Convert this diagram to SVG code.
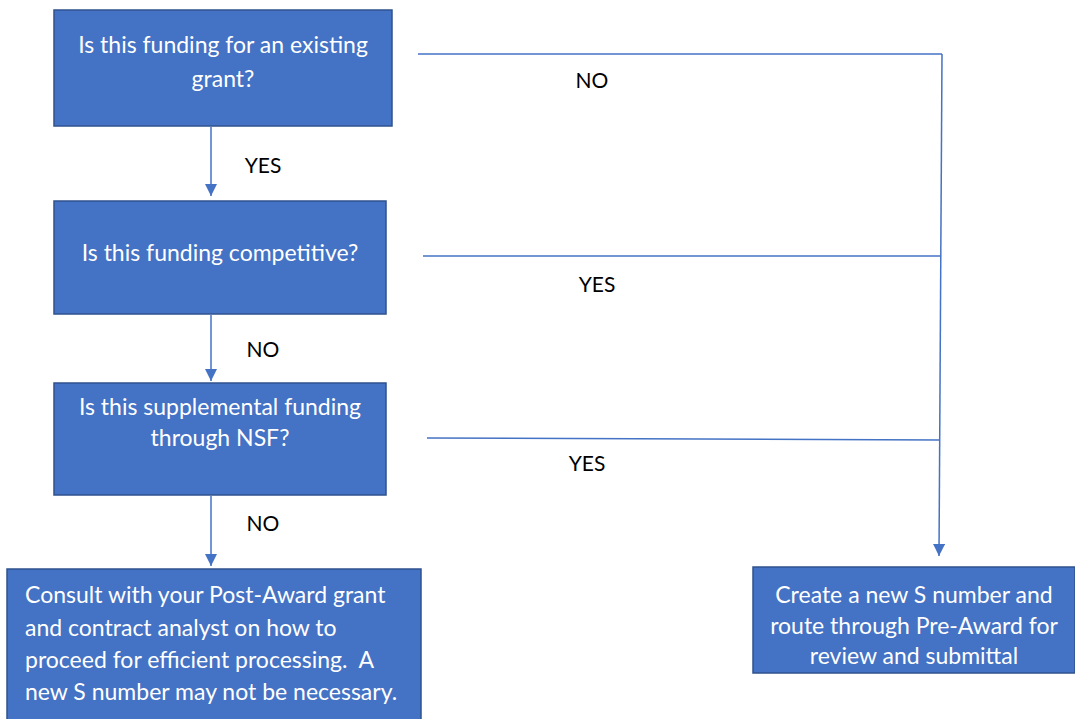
<svg xmlns="http://www.w3.org/2000/svg" width="1075" height="719" viewBox="0 0 1075 719">
<defs>
<style>
.box{fill:#4472C4;stroke:#2F528F;stroke-width:1.5}
.bt{font-family:Lato,"Open Sans","Liberation Sans",sans-serif;font-size:23px;fill:#ffffff;white-space:pre}
.c{text-anchor:middle}
.lbl{font-family:Lato,"Open Sans","Liberation Sans",sans-serif;font-size:21px;fill:#000000;text-anchor:middle}
.ln{stroke:#4472C4;stroke-width:1.5;fill:none}
</style>
<marker id="ah" viewBox="0 0 12 12" refX="12" refY="6" markerWidth="12" markerHeight="12" markerUnits="userSpaceOnUse" orient="auto">
<path d="M0,0 L12,6 L0,12 Z" fill="#4472C4"/>
</marker>
</defs>
<rect width="1075" height="719" fill="#ffffff"/>
<g id="connectors">
<line class="ln" x1="211" y1="127" x2="211" y2="196" marker-end="url(#ah)"/>
<line class="ln" x1="211" y1="315" x2="211" y2="381" marker-end="url(#ah)"/>
<line class="ln" x1="211" y1="496" x2="211" y2="566" marker-end="url(#ah)"/>
<line class="ln" x1="418" y1="54" x2="942" y2="54"/>
<line class="ln" x1="423" y1="256" x2="941" y2="256"/>
<line class="ln" x1="427" y1="438" x2="940" y2="440"/>
<line class="ln" x1="942" y1="54" x2="939" y2="556" marker-end="url(#ah)"/>
<text class="lbl" x="263" y="173">YES</text>
<text class="lbl" x="263" y="357">NO</text>
<text class="lbl" x="263" y="531">NO</text>
<text class="lbl" x="592" y="88">NO</text>
<text class="lbl" x="597" y="292">YES</text>
<text class="lbl" x="587" y="471">YES</text>
</g>
<g id="q1">
<rect class="box" x="54" y="10" width="338" height="116"/>
<text class="bt c" x="223" y="53">Is this funding for an existing</text>
<text class="bt c" x="223" y="87">grant?</text>
</g>
<g id="q2">
<rect class="box" x="54" y="201" width="332" height="113"/>
<text class="bt c" x="220" y="261">Is this funding competitive?</text>
</g>
<g id="q3">
<rect class="box" x="54" y="383" width="332" height="112"/>
<text class="bt c" x="220" y="415">Is this supplemental funding</text>
<text class="bt c" x="220" y="446">through NSF?</text>
</g>
<g id="consult">
<rect class="box" x="7" y="569" width="414" height="160"/>
<text class="bt" x="25" y="603">Consult with your Post-Award grant</text>
<text class="bt" x="25" y="636">and contract analyst on how to</text>
<text class="bt" x="25" y="668" xml:space="preserve">proceed for efficient processing.  A</text>
<text class="bt" x="25" y="700">new S number may not be necessary.</text>
</g>
<g id="create">
<rect class="box" x="753" y="567" width="322" height="106"/>
<text class="bt c" x="914" y="603">Create a new S number and</text>
<text class="bt c" x="914" y="634">route through Pre-Award for</text>
<text class="bt c" x="914" y="664">review and submittal</text>
</g>
</svg>
